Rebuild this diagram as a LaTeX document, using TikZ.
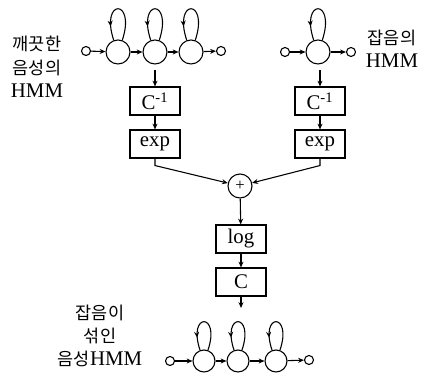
\documentclass[tikz,border=0pt]{standalone}
\usepackage{fontspec}
\setmainfont{Liberation Serif}
\newfontfamily\kr{Noto Sans CJK KR}
\usetikzlibrary{arrows.meta,decorations.markings,positioning}

\tikzset{
  state/.style={circle,draw,fill=white,minimum size=14.4pt,inner sep=0pt},
  term/.style={circle,draw,fill=white,minimum size=5.4pt,inner sep=0pt},
  blk/.style={draw,fill=white,minimum width=30pt,minimum height=16.8pt,inner sep=0pt,
    font=\fontsize{12.5}{12.5}\selectfont},
  lbl/.style={align=center,inner sep=0pt,font=\fontsize{10.5}{14}\selectfont},
  arr/.style={-{Stealth[length=3.5pt,width=3pt]}},
  selfloop/.style={postaction={decorate},decoration={markings,
    mark=at position 0.8 with {\arrow{Stealth[length=3.5pt,width=3pt]}}}},
}

\begin{document}
\begin{tikzpicture}[x=0.6pt,y=-0.6pt,line width=0.65pt]
\useasboundingbox (0,0) rectangle (425,374);

% clean speech HMM
\node[term]  (i1) at (86,51) {};
\node[state] (a1) at (118,52) {};
\node[state] (a2) at (155,52) {};
\node[state] (a3) at (191,52) {};
\node[term]  (o1) at (221,51) {};
\draw[arr] (i1) -- (a1);
\draw[arr] (a1) -- (a2);
\draw[arr] (a2) -- (a3);
\draw[arr] (a3) -- (o1);
\foreach \s in {a1,a2,a3}
  \draw[selfloop] (\s.70) .. controls +(14,-42) and +(-14,-42) .. (\s.110);

% noise HMM
\node[term]  (i2) at (285,52) {};
\node[state] (b1) at (318,52) {};
\node[term]  (o2) at (351,52) {};
\draw[arr] (i2) -- (b1);
\draw[arr] (b1) -- (o2);
\draw[selfloop] (b1.70) .. controls +(14,-42) and +(-14,-42) .. (b1.110);

% transforms
\coordinate (t1) at (155,70);
\coordinate (t2) at (320,70);
\node[blk] (cinv1) at (155,101) {C\textsuperscript{-1}};
\node[blk] (exp1)  at (155,144) {exp};
\node[blk] (cinv2) at (320,101) {C\textsuperscript{-1}};
\node[blk] (exp2)  at (320,144) {exp};
\node[circle,draw,minimum size=14.4pt,inner sep=0pt,font=\fontsize{10}{10}\selectfont] (plus) at (240,186) {+};
\node[blk] (log) at (241,239) {log};
\node[blk] (cc)  at (241,282) {C};
\coordinate (t3) at (241,308);

\draw[arr] (t1) -- (cinv1);
\draw[arr] (t2) -- (cinv2);
\draw[arr] (cinv1) -- (exp1);
\draw[arr] (cinv2) -- (exp2);
\draw[arr] (exp1.south) -- ++(0,7) -- (plus);
\draw[arr] (exp2.south) -- ++(0,7) -- (plus);
\draw[arr] (plus) -- (log);
\draw[arr] (log) -- (cc);
\draw[arr] (cc) -- (t3);

% noisy speech HMM
\node[term]  (i3) at (170,361) {};
\node[state,minimum size=13.2pt] (c1) at (204,361) {};
\node[state,minimum size=13.2pt] (c2) at (238,361) {};
\node[state,minimum size=13.2pt] (c3) at (276,361) {};
\node[term]  (o3) at (309,360) {};
\draw[arr] (i3) -- (c1);
\draw[arr] (c1) -- (c2);
\draw[arr] (c2) -- (c3);
\draw[arr] (c3) -- (o3);
\foreach \s in {c1,c2,c3}
  \draw[selfloop] (\s.70) .. controls +(13,-38) and +(-13,-38) .. (\s.110);

% labels
\node[lbl] (lclean) at (37,67) {{\kr 깨끗한}\\{\kr 음성의}\\{\fontsize{12.5}{14}\selectfont HMM}};
\node[lbl] (lnoise) at (392,49) {{\kr 잡음의}\\{\fontsize{12.5}{14}\selectfont HMM}};
\node[lbl] (lnoisy) at (100,336) {{\kr 잡음이}\\{\kr 섞인}\\{\kr 음성}{\fontsize{12.5}{14}\selectfont HMM}};
\end{tikzpicture}
\end{document}
